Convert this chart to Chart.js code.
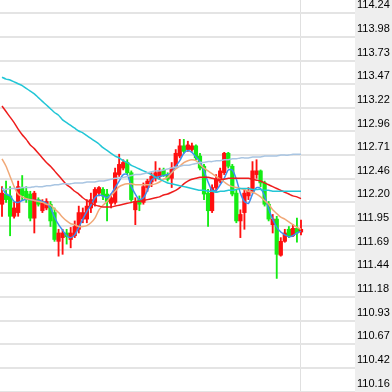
<!DOCTYPE html>
<html>
<head>
<meta charset="utf-8">
<script src="https://cdn.jsdelivr.net/npm/chart.js@4"></script>
<style>
html,body{margin:0;padding:0;background:#fff}
#wrap{width:392px;height:392px}
</style>
</head>
<body>
<div id="wrap"><canvas id="c"></canvas></div>
<script>
// candles, one per bar index 0..74
const opens=[112.18,112.29,112.27,112.05,112.09,112.36,112.32,112.29,112.03,112.23,
112.11,112.14,112.18,112.09,111.78,111.82,111.87,111.80,111.84,111.91,
112.02,112.02,112.14,112.20,112.30,112.34,112.29,112.19,112.20,112.50,
112.57,112.63,112.52,112.12,112.23,112.20,112.36,112.42,112.46,112.48,
112.55,112.50,112.46,112.59,112.70,112.81,112.77,112.77,112.81,112.70,
112.59,112.30,112.11,112.36,112.43,112.52,112.73,112.59,112.30,112.00,
112.09,112.27,112.32,112.50,112.54,112.41,112.18,111.96,112.02,111.63,
111.78,111.91,111.84,111.92,111.88];
const highs=[112.37,112.43,112.37,112.20,112.43,112.49,112.37,112.32,112.32,112.25,
112.23,112.24,112.21,112.14,111.91,111.91,111.91,111.93,112.00,112.16,
112.14,112.23,112.30,112.36,112.37,112.36,112.34,112.29,112.57,112.72,
112.66,112.66,112.54,112.25,112.27,112.41,112.45,112.52,112.64,112.57,
112.57,112.52,112.63,112.77,112.88,112.88,112.86,112.84,112.82,112.73,
112.61,112.34,112.39,112.50,112.57,112.74,112.74,112.61,112.34,112.12,
112.34,112.36,112.64,112.66,112.55,112.43,112.21,112.07,112.05,111.82,
111.91,111.94,111.96,112.03,112.01];
const lows=[112.05,112.20,111.84,112.03,112.05,112.23,112.20,112.00,111.87,112.16,
112.09,112.12,111.94,111.78,111.62,111.64,111.75,111.71,111.82,111.87,
111.98,111.98,112.09,112.16,112.27,112.23,112.00,112.14,112.18,112.48,
112.55,112.50,112.21,111.96,112.11,112.18,112.32,112.37,112.43,112.45,
112.48,112.43,112.36,112.57,112.68,112.73,112.75,112.75,112.66,112.55,
112.23,111.94,112.09,112.32,112.41,112.50,112.57,112.27,111.98,111.82,
111.91,112.23,112.30,112.46,112.37,112.16,112.00,111.87,111.38,111.62,
111.77,111.82,111.83,111.77,111.85];
const closes=[112.30,112.23,112.05,112.14,112.37,112.27,112.23,112.03,112.30,112.18,
112.20,112.21,112.00,111.80,111.87,111.87,111.83,111.87,111.94,112.09,
112.09,112.16,112.23,112.34,112.36,112.27,112.21,112.25,112.52,112.61,
112.63,112.52,112.23,112.21,112.18,112.37,112.43,112.48,112.52,112.54,
112.50,112.45,112.57,112.73,112.81,112.75,112.82,112.81,112.68,112.57,
112.29,112.11,112.36,112.45,112.54,112.73,112.59,112.29,112.00,112.07,
112.30,112.32,112.54,112.54,112.41,112.18,112.02,112.02,111.64,111.78,
111.87,111.84,111.92,111.87,111.91];

// moving average lines
const maBlue=[112.36,112.29,112.27,112.21,112.20,112.22,112.23,112.23,112.22,112.22,
112.21,112.19,112.14,112.04,111.96,111.90,111.84,111.82,111.85,111.93,
112.02,112.10,112.17,112.25,112.28,112.27,112.25,112.29,112.36,112.43,
112.50,112.50,112.37,112.29,112.23,112.25,112.33,112.44,112.47,112.48,
112.49,112.50,112.52,112.59,112.65,112.73,112.76,112.74,112.69,112.64,
112.54,112.42,112.33,112.33,112.39,112.46,112.55,112.55,112.45,112.30,
112.21,112.19,112.29,112.36,112.35,112.27,112.13,112.02,111.93,111.88,
111.85,111.83,111.84,111.87,111.89];
const maOrange=[112.67,112.59,112.48,112.37,112.29,112.26,112.24,112.23,112.22,112.21,
112.20,112.18,112.17,112.13,112.09,112.04,112.00,111.97,111.96,111.94,
111.94,111.95,111.98,112.03,112.12,112.17,112.21,112.27,112.32,112.37,
112.39,112.40,112.40,112.39,112.39,112.39,112.39,112.39,112.40,112.42,
112.45,112.47,112.52,112.56,112.59,112.63,112.65,112.66,112.65,112.61,
112.57,112.54,112.51,112.48,112.45,112.42,112.39,112.37,112.36,112.35,
112.34,112.32,112.31,112.29,112.26,112.22,112.18,112.12,112.08,112.04,
112.02,111.99,111.96,111.93,111.91];
const maRed=[113.24,113.18,113.12,113.06,112.99,112.93,112.88,112.82,112.78,112.73,
112.68,112.63,112.59,112.54,112.49,112.44,112.39,112.36,112.32,112.29,
112.25,112.22,112.20,112.17,112.16,112.15,112.15,112.15,112.16,112.17,
112.18,112.19,112.20,112.21,112.21,112.22,112.23,112.24,112.25,112.26,
112.28,112.29,112.31,112.33,112.36,112.40,112.43,112.45,112.46,112.47,
112.47,112.47,112.46,112.45,112.45,112.45,112.46,112.46,112.46,112.46,
112.46,112.46,112.45,112.44,112.43,112.41,112.39,112.37,112.35,112.33,
112.31,112.29,112.27,112.26,112.24];
const maCyan=[113.55,113.53,113.52,113.50,113.48,113.46,113.43,113.40,113.37,113.33,
113.29,113.25,113.21,113.17,113.14,113.09,113.06,113.03,113.00,112.97,
112.95,112.92,112.89,112.86,112.83,112.79,112.76,112.73,112.70,112.68,
112.65,112.63,112.60,112.58,112.56,112.54,112.52,112.50,112.47,112.45,
112.43,112.41,112.40,112.39,112.38,112.37,112.36,112.35,112.34,112.33,
112.33,112.32,112.32,112.31,112.32,112.32,112.33,112.33,112.34,112.35,
112.35,112.35,112.34,112.34,112.34,112.33,112.33,112.32,112.32,112.32,
112.32,112.32,112.32,112.32,112.32];
const maSteel=[112.34,112.34,112.35,112.35,112.35,112.36,112.36,112.36,112.37,112.37,
112.37,112.38,112.38,112.39,112.39,112.40,112.40,112.40,112.41,112.41,
112.41,112.42,112.42,112.42,112.43,112.43,112.44,112.45,112.46,112.46,
112.47,112.48,112.49,112.50,112.50,112.51,112.52,112.53,112.54,112.54,
112.55,112.56,112.57,112.58,112.59,112.60,112.60,112.61,112.62,112.63,
112.63,112.64,112.64,112.65,112.65,112.66,112.66,112.67,112.67,112.68,
112.68,112.68,112.69,112.69,112.69,112.70,112.70,112.70,112.70,112.71,
112.71,112.71,112.72,112.72,112.72];

const yTickValues=[114.24,113.985,113.73,113.475,113.22,112.965,112.71,112.455,112.20,
111.945,111.69,111.435,111.18,110.925,110.67,110.415,110.16];
const yTickLabels=['114.24','113.98','113.73','113.47','113.22','112.96','112.71','112.46','112.20',
'111.95','111.69','111.44','111.18','110.93','110.67','110.42','110.16'];
const lastIndex=74;

const UP='#ff1010', DOWN='#14ec14';
const candleColor=ctx=>closes[ctx.dataIndex]>=opens[ctx.dataIndex]?UP:DOWN;

const bodies=opens.map((o,i)=>({x:i, y:[Math.min(o,closes[i]), Math.max(o,closes[i])]}));
const wicks=lows.map((l,i)=>({x:i, y:[l, highs[i]]}));
const pts=arr=>arr.map((v,i)=>({x:i, y:v}));

function maLine(arr,color){
  return {type:'line', data:pts(arr), borderColor:color, borderWidth:1.5, pointRadius:0, tension:0.25, order:0};
}

const axisBg={id:'axisBg', beforeDraw(chart){
  const s=chart.scales.y, c=chart.ctx;
  c.save(); c.fillStyle='#eeeeee'; c.fillRect(s.left,0,s.right-s.left,chart.height); c.restore();
}};

new Chart(document.getElementById('c'),{
  type:'bar',
  data:{datasets:[
    maLine(maSteel,'#a9c5e2'),
    maLine(maCyan,'#22c6d6'),
    maLine(maRed,'#ee1c1c'),
    maLine(maOrange,'#f1a877'),
    maLine(maBlue,'#3a8ef0'),
    {type:'bar', data:bodies, backgroundColor:candleColor, borderWidth:0, barThickness:3.6, grouped:false, order:1},
    {type:'bar', data:wicks, backgroundColor:candleColor, borderWidth:0, barThickness:1.2, grouped:false, order:2}
  ]},
  options:{
    animation:false, responsive:true, maintainAspectRatio:false, devicePixelRatio:1,
    layout:{padding:0},
    plugins:{legend:{display:false}, tooltip:{enabled:false}},
    scales:{
      x:{type:'linear', min:-0.495, max:87.37, offset:false,
        afterBuildTicks:s=>{ s.ticks=[{value:lastIndex}]; },
        afterFit:s=>{ s.height=0; s.paddingLeft=0; s.paddingRight=0; },
        grid:{color:'#e0e0e0', lineWidth:1, drawTicks:false, offset:false},
        border:{display:false},
        ticks:{display:false}},
      y:{position:'right', min:110.155, max:114.383, beginAtZero:false,
        afterBuildTicks:s=>{ s.ticks=yTickValues.map(v=>({value:v})); },
        afterFit:s=>{ s.width=37; s.paddingTop=0; s.paddingBottom=0; },
        grid:{color:'#e4e4e4', lineWidth:2, drawTicks:false},
        border:{display:false},
        ticks:{padding:2, labelOffset:-8, autoSkip:false, color:'#000000',
          font:{family:'"Liberation Sans", Arial, sans-serif', size:11},
          callback:(v,i)=>yTickLabels[i]}}
    }
  },
  plugins:[axisBg]
});
</script>
</body>
</html>
